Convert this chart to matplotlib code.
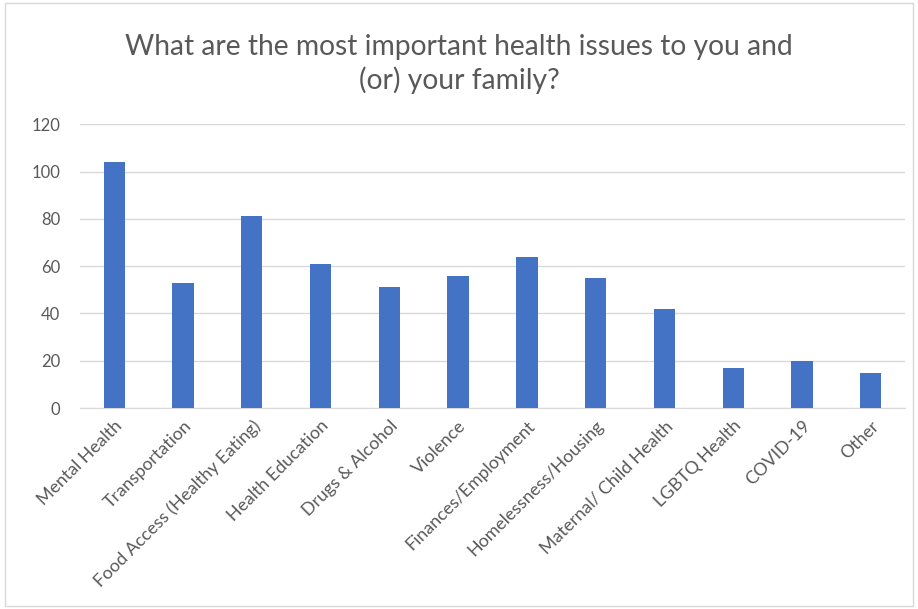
import matplotlib.pyplot as plt

categories = ['Mental Health', 'Transportation', 'Food Access (Healthy Eating)',
              'Health Education', 'Drugs & Alcohol', 'Violence',
              'Finances/Employment', 'Homelessness/Housing',
              'Maternal/ Child Health', 'LGBTQ Health', 'COVID-19', 'Other']
counts = [104, 53, 81, 61, 51, 56, 64, 55, 42, 17, 20, 15]
y_ticks = [0, 20, 40, 60, 80, 100, 120]

plt.rcParams['font.family'] = ['Lato', 'DejaVu Sans']

fig = plt.figure(figsize=(9.18, 6.09), dpi=100)
ax = fig.add_axes([0.087, 0.330, 0.899, 0.466])

x = list(range(len(categories)))
ax.bar(x, counts, width=0.31, color='#4472C4', zorder=3)

ax.set_xlim(-0.5, len(categories) - 0.5)
ax.set_ylim(0, 120)
ax.set_yticks(y_ticks)
ax.set_xticks(x)
ax.set_xticklabels(categories, rotation=45, ha='right', rotation_mode='anchor',
                   fontsize=12.8, color='#595959')
ax.tick_params(axis='y', labelsize=12, labelcolor='#595959', length=0, pad=14)
ax.tick_params(axis='x', length=0, pad=7)

ax.grid(axis='y', color='#D9D9D9', linewidth=1, zorder=0)
for side in ['top', 'right', 'left']:
    ax.spines[side].set_visible(False)
ax.spines['bottom'].set_color('#D9D9D9')

fig.text(0.5, 0.895, 'What are the most important health issues to you and\n(or) your family?',
         ha='center', va='center', fontsize=20.3, color='#595959', linespacing=1.3)

fig.patches.append(plt.Rectangle((0.005, 0.005), 0.99, 0.99, transform=fig.transFigure,
                                 fill=False, edgecolor='#D9D9D9', linewidth=1))

fig.savefig('out.png', dpi=100)
